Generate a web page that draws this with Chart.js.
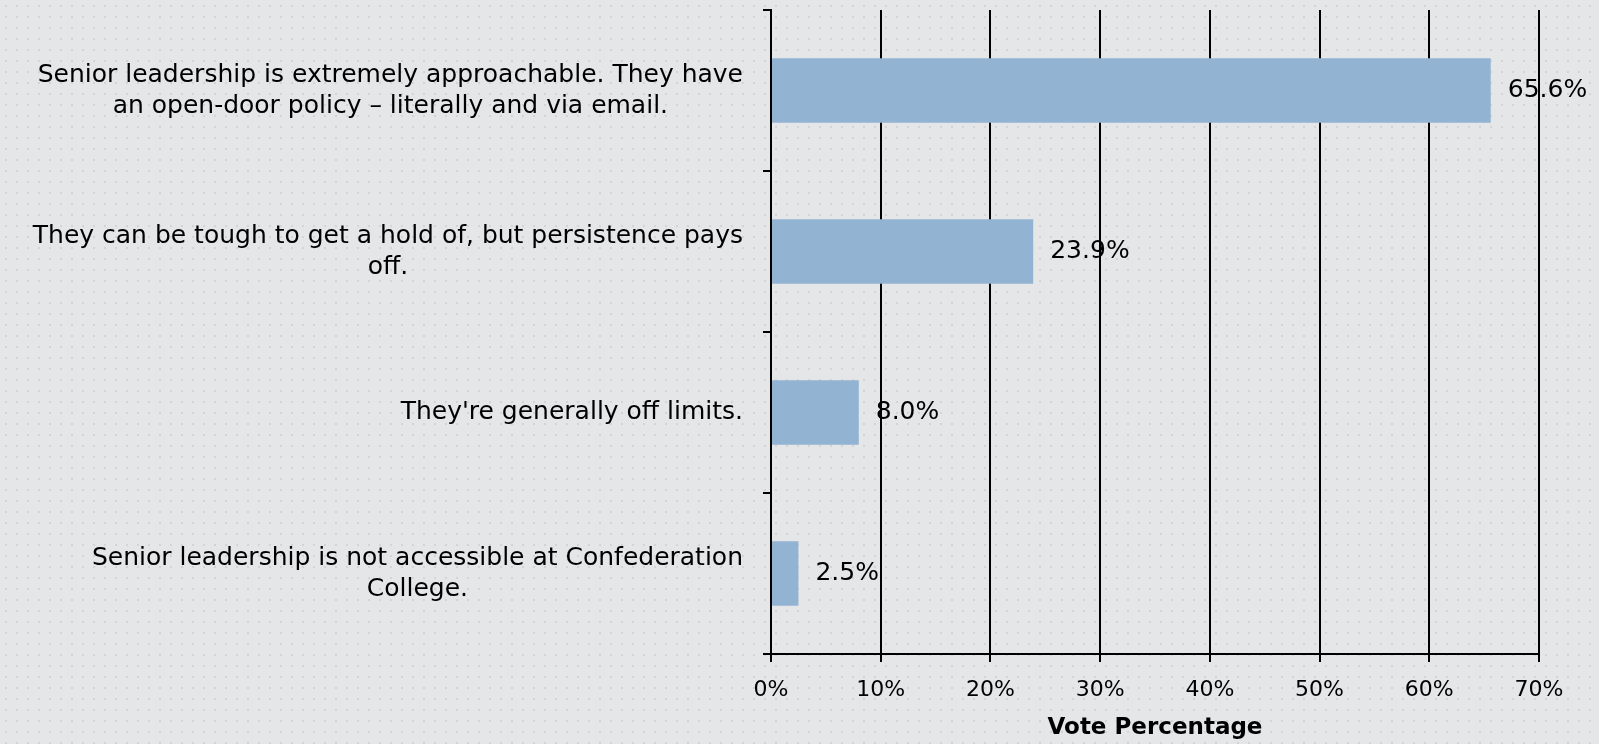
<!DOCTYPE html>
<html><head><meta charset="utf-8">
<script src="https://cdn.jsdelivr.net/npm/chart.js@4"></script>
<style>html,body{margin:0;padding:0;background:#e5e6e8;overflow:hidden}#wrap{width:1599px;height:744px}</style>
</head><body><div id="wrap"><canvas id="c" width="1599" height="744"></canvas></div>
<script>
const categories = [
  ["Senior leadership is extremely approachable. They have", "an open-door policy – literally and via email."],
  ["They can be tough to get a hold of, but persistence pays", "off."],
  ["They're generally off limits."],
  ["Senior leadership is not accessible at Confederation", "College."]
];
const votePercent = [65.6, 23.9, 8.0, 2.5];
const xTickMin = 0, xTickMax = 70, xTickStep = 10;
const axisTitle = "Vote Percentage";

const FONT = '"DejaVu Sans", sans-serif';
Chart.defaults.font.family = FONT;
Chart.defaults.color = '#000';

function makePattern(ctx) {
  const c = document.createElement('canvas');
  c.width = 11; c.height = 11;
  const g = c.getContext('2d');
  g.fillStyle = '#e5e6e8'; g.fillRect(0, 0, 11, 11);
  g.fillStyle = '#d3d4d7'; g.fillRect(5, 5, 2, 2);
  return ctx.createPattern(c, 'repeat');
}

const bgPlugin = {
  id: 'bg',
  beforeDraw(chart) {
    const ctx = chart.ctx;
    ctx.save();
    ctx.fillStyle = makePattern(ctx);
    ctx.fillRect(0, 0, chart.width, chart.height);
    ctx.restore();
  }
};

const yLabelPlugin = {
  id: 'ylabels',
  afterDraw(chart) {
    const ctx = chart.ctx, ys = chart.scales.y;
    ctx.save();
    ctx.font = '25px ' + FONT;
    ctx.fillStyle = '#000';
    ctx.textAlign = 'center';
    ctx.textBaseline = 'middle';
    const right = ys.right - 8 - 20;
    const lh = 31;
    categories.forEach((lines, i) => {
      const yc = ys.getPixelForTick(i);
      const w = Math.max(...lines.map(l => ctx.measureText(l).width));
      const cx = right - w / 2;
      lines.forEach((l, j) => ctx.fillText(l, cx, yc + (j - (lines.length - 1) / 2) * lh));
    });
    ctx.restore();
  }
};

const valuePlugin = {
  id: 'values',
  afterDatasetsDraw(chart) {
    const ctx = chart.ctx;
    const meta = chart.getDatasetMeta(0);
    ctx.save();
    ctx.font = '25px ' + FONT;
    ctx.fillStyle = '#000';
    ctx.textAlign = 'left';
    ctx.textBaseline = 'middle';
    meta.data.forEach((bar, i) => {
      ctx.fillText(votePercent[i].toFixed(1) + '%', bar.x + 17, bar.y);
    });
    ctx.restore();
  }
};

new Chart(document.getElementById('c'), {
  type: 'bar',
  data: {
    labels: categories,
    datasets: [{
      data: votePercent,
      backgroundColor: '#93b3d2',
      borderWidth: 0,
      barPercentage: 0.4,
      categoryPercentage: 1.0
    }]
  },
  options: {
    indexAxis: 'y',
    responsive: false,
    animation: false,
    devicePixelRatio: 1,
    layout: { padding: { top: 10, right: 60, left: 0, bottom: 0 } },
    plugins: { legend: { display: false }, tooltip: { enabled: false } },
    scales: {
      x: {
        min: xTickMin, max: xTickMax,
        ticks: { stepSize: xTickStep, callback: v => v + '%', font: { size: 22 }, color: '#000', padding: 15 },
        grid: { color: '#000', lineWidth: 2, tickLength: 8, drawTicks: true },
        border: { display: true, color: '#000', width: 2 },
        title: { display: true, text: axisTitle, font: { size: 23, weight: 'bold' }, color: '#000', padding: { top: 4, bottom: 2 } },
        afterFit(s) { s.height = 90; }
      },
      y: {
        offset: true,
        ticks: { display: false },
        grid: { drawOnChartArea: false, drawTicks: true, tickLength: 8, color: '#000', lineWidth: 2, offset: true },
        border: { display: true, color: '#000', width: 2 },
        afterFit(s) { s.width = 771; }
      }
    }
  },
  plugins: [bgPlugin, yLabelPlugin, valuePlugin]
});
</script></body></html>
